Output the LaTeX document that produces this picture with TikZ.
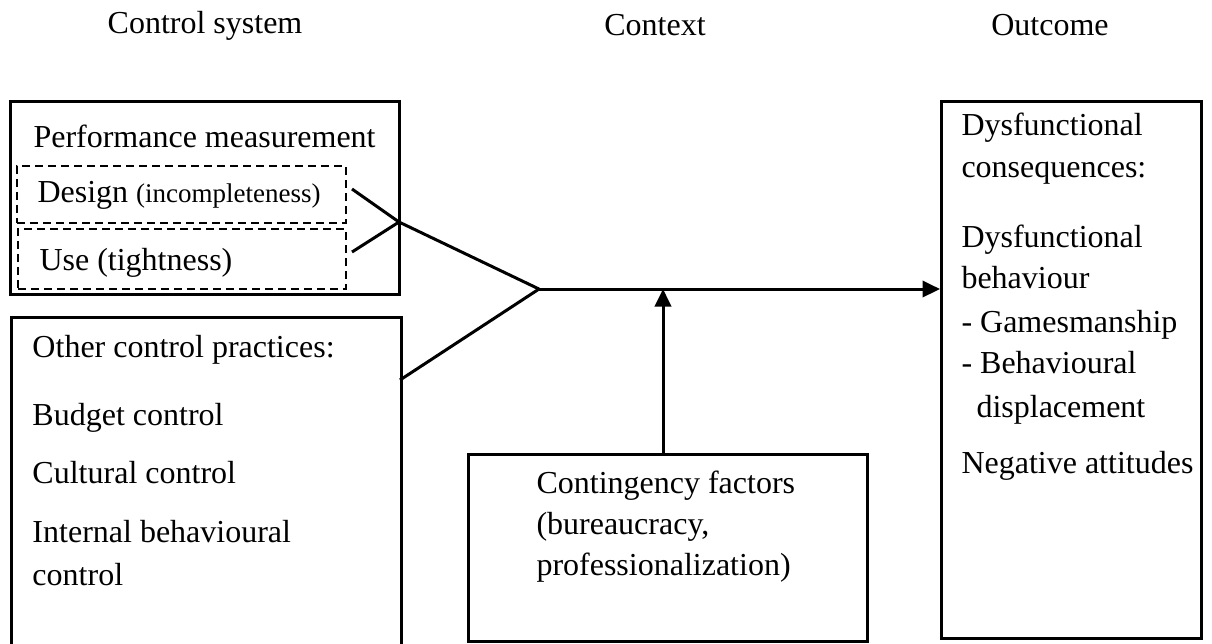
\documentclass[tikz,border=0pt]{standalone}
\usepackage{fontspec}
\setmainfont{Liberation Serif}
\usetikzlibrary{arrows.meta}
\begin{document}
\begin{tikzpicture}[x=0.4pt,y=-0.4pt,
  box/.style={draw,line width=1pt,inner sep=0,anchor=north west},
  dbox/.style={draw,line width=0.7pt,dash pattern=on 3.2pt off 2pt,inner sep=0,anchor=north west},
  txt/.style={inner sep=0,anchor=base west,font=\fontsize{12.8}{15}\selectfont},
  head/.style={inner sep=0,anchor=base,font=\fontsize{12.8}{15}\selectfont},
  conn/.style={line width=1.2pt},
  arr/.style={conn,-{Triangle[length=7pt,width=6.5pt]}}]
\useasboundingbox (0,0) rectangle (1212,643);
\clip (0,0) rectangle (1212,643);
% headings
\node[head] (h1) at (205,33) {Control system};
\node[head] (h2) at (655,35) {Context};
\node[head] (h3) at (1050,35) {Outcome};
% boxes
\node[box,minimum width=155.6pt,minimum height=77.2pt] (pm) at (9,100) {};
\node[dbox,minimum width=131.6pt,minimum height=22.8pt] (dd) at (16,165) {};
\node[dbox,minimum width=131.2pt,minimum height=24pt] (du) at (17,228) {};
\node[box,minimum width=156pt,minimum height=140pt] (ocp) at (10,316) {};
\node[box,minimum width=159.6pt,minimum height=74.8pt] (cont) at (467,453) {};
\node[box,minimum width=104pt,minimum height=214.8pt] (out) at (940,100) {};
% texts
\node[txt] (t1) at (33,147) {Performance measurement};
\node[txt] (t2) at (37,202) {Design {\fontsize{10.8}{13}\selectfont (incompleteness)}};
\node[txt] (t3) at (39,270) {Use (tightness)};
\node[txt] (o1) at (32,357) {Other control practices:};
\node[txt] (o2) at (32,425) {Budget control};
\node[txt] (o3) at (32,483) {Cultural control};
\node[txt] (o4) at (32,542) {Internal behavioural};
\node[txt] (o5) at (32,585) {control};
\node[txt] (c1) at (536,493) {Contingency factors};
\node[txt] (c2) at (536,534) {(bureaucracy,};
\node[txt] (c3) at (536,575) {professionalization)};
\node[txt] (r1) at (961,135) {Dysfunctional};
\node[txt] (r2) at (961,177) {consequences:};
\node[txt] (r3) at (961,247) {Dysfunctional};
\node[txt] (r4) at (961,288) {behaviour};
\node[txt] (r5) at (961,332) {- Gamesmanship};
\node[txt] (r6) at (961,373) {- Behavioural};
\node[txt] (r7) at (976,417) {displacement};
\node[txt] (r8) at (961,473) {Negative attitudes};
% connectors
\coordinate (ds) at (352,189);
\coordinate (us) at (352,252);
\coordinate (cross) at (399,222);
\coordinate (apex) at (539,289);
\coordinate (os) at (400,380);
\coordinate (vt) at (663,453);
\draw[conn,line join=round] (ds) -- (cross) -- (apex);
\draw[conn] (us) -- (cross);
\draw[conn] (os) -- (apex);
\draw[arr] (apex) -- (apex -| out.west);
\draw[arr] (vt) -- (vt |- apex);
\end{tikzpicture}
\end{document}
